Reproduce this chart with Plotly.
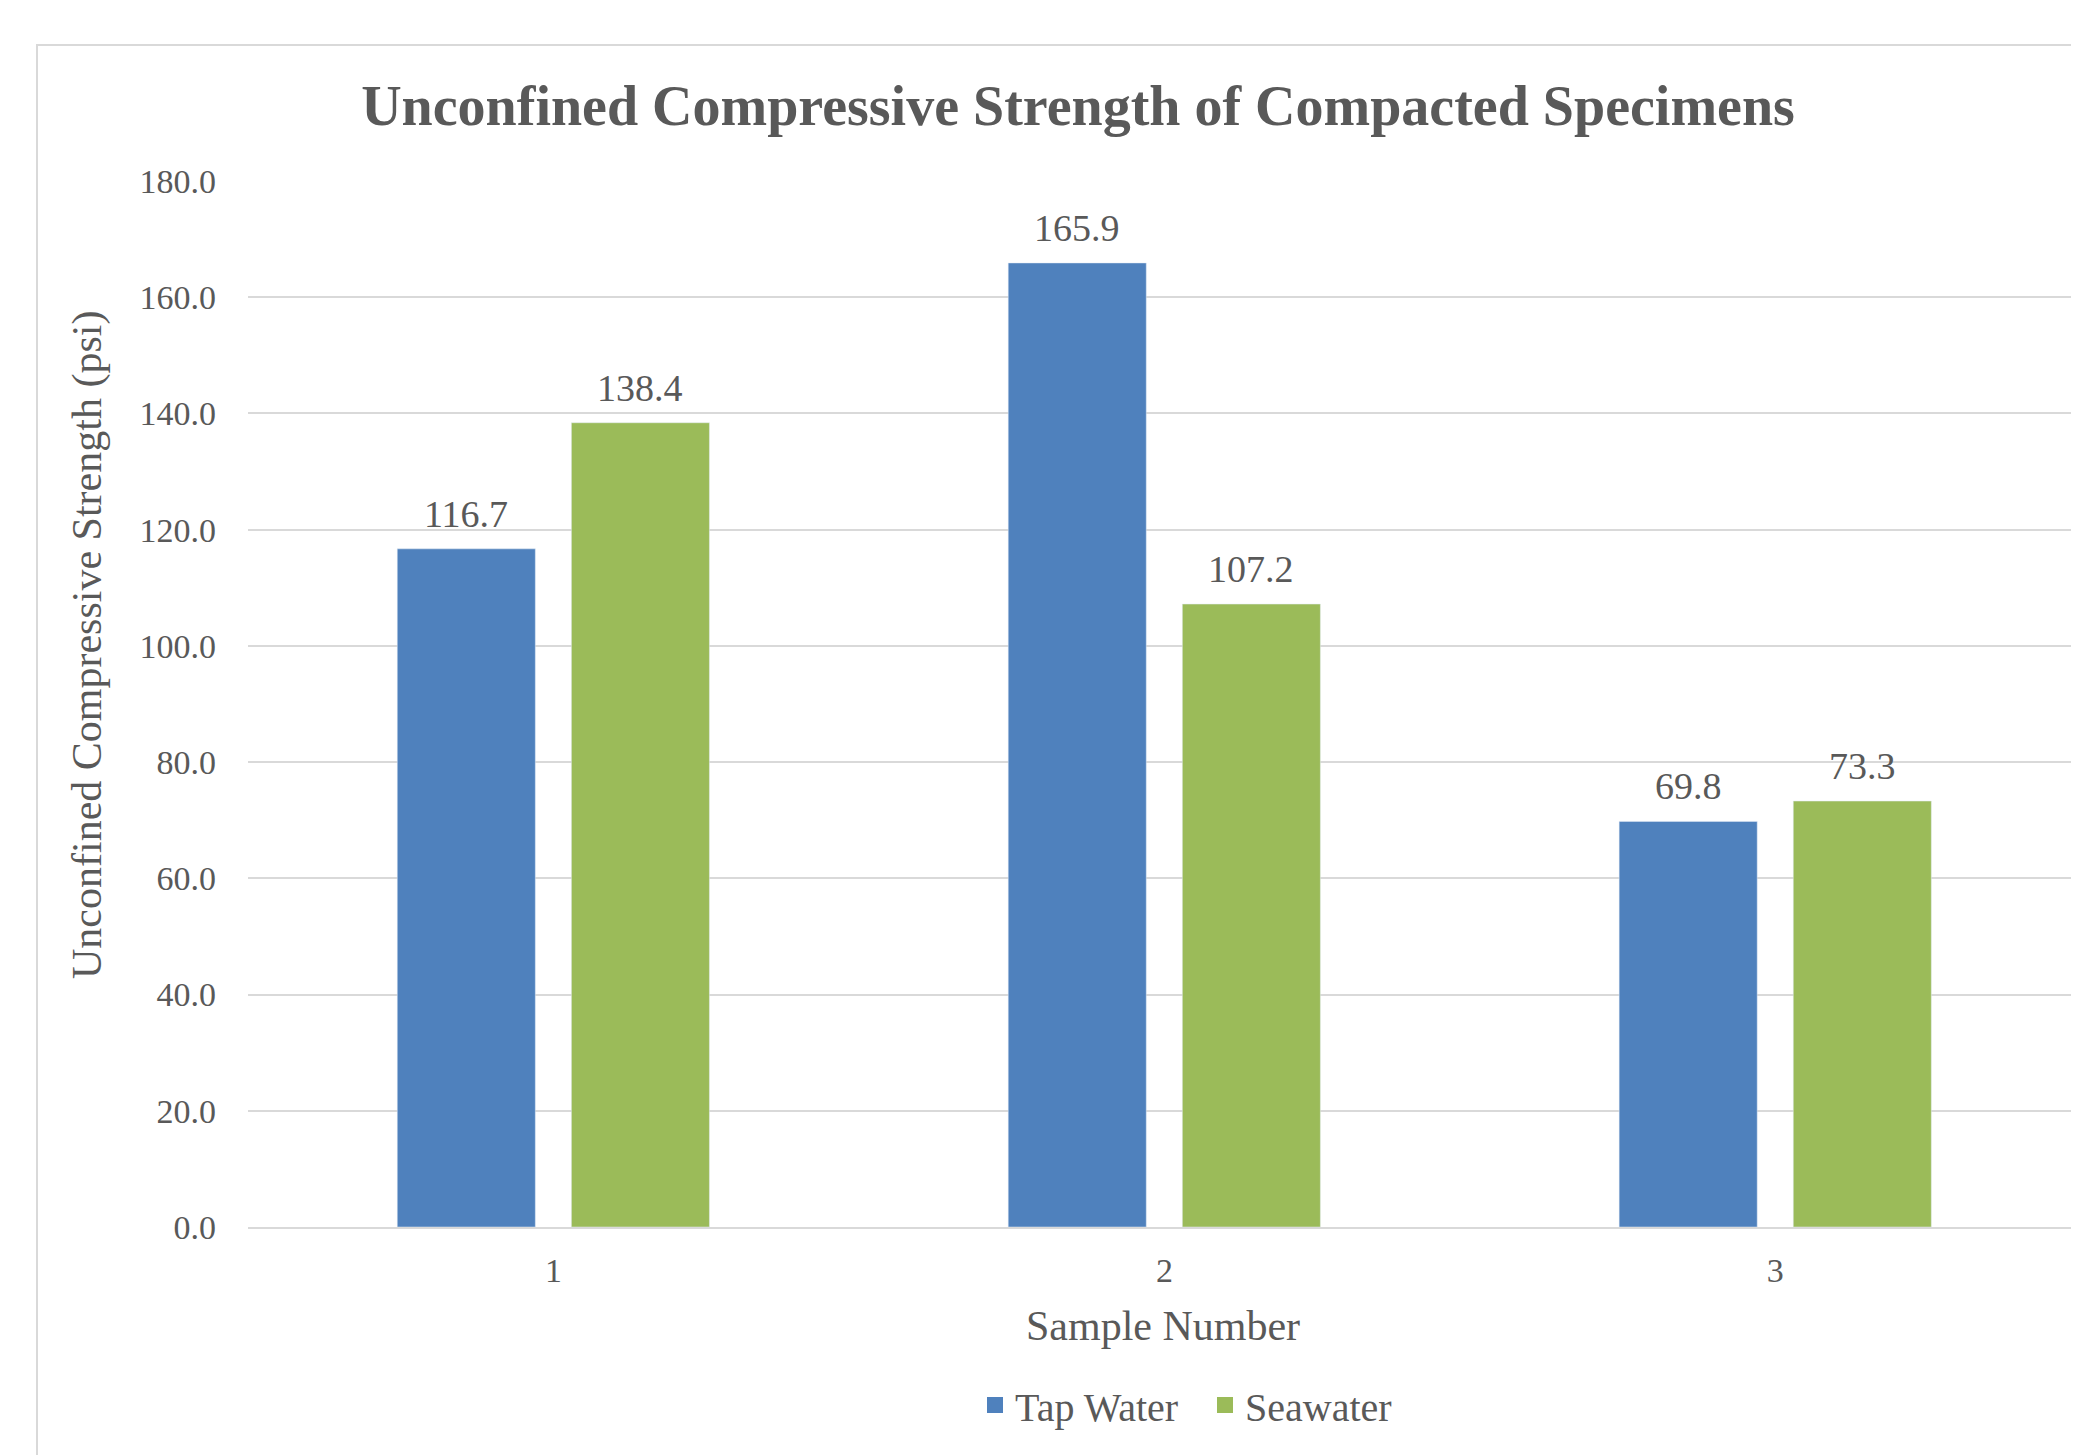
import plotly.graph_objects as go

categories = [1, 2, 3]
tick_labels = ["1", "2", "3"]
tap_water = [116.7, 165.9, 69.8]
seawater = [138.4, 107.2, 73.3]
y_ticks = [0, 20, 40, 60, 80, 100, 120, 140, 160, 180]
y_tick_labels = [f"{v:.1f}" for v in y_ticks]

BLUE = "#4F81BD"
GREEN = "#9BBB59"
TXT = "#595959"
GRID = "#D9D9D9"
FONT = "Liberation Serif, Times New Roman, serif"

# page has an 8px body margin; work in screen coordinates and convert
OFF = 8
W, H = 2079 - OFF, 1455 - OFF
L, R, T, B = 248 - OFF, 0, 181 - OFF, 228
PW = W - L - R
PH = H - T - B

BAR_W = 0.226
OFF_TAP = -0.2557
OFF_SEA = 0.0293

fig = go.Figure()
fig.add_trace(go.Bar(x=categories, y=tap_water, name="Tap Water", marker_color=BLUE,
                     width=BAR_W, offset=OFF_TAP, showlegend=False))
fig.add_trace(go.Bar(x=categories, y=seawater, name="Seawater", marker_color=GREEN,
                     width=BAR_W, offset=OFF_SEA, showlegend=False))
# legend entries
fig.add_trace(go.Scatter(x=[None], y=[None], mode="markers", name="Tap Water",
                         marker=dict(symbol="square", size=20, color=BLUE)))
fig.add_trace(go.Scatter(x=[None], y=[None], mode="markers", name="Seawater",
                         marker=dict(symbol="square", size=20, color=GREEN)))

annotations = []
for series, off in ((tap_water, OFF_TAP), (seawater, OFF_SEA)):
    for c, v in zip(categories, series):
        annotations.append(dict(x=c + off + BAR_W / 2, y=v, xref="x", yref="y",
                                text=f"{v:.1f}", showarrow=False, yanchor="bottom",
                                yshift=12, font=dict(family=FONT, size=38, color=TXT)))

def px2x(px):
    return (px - OFF - L) / PW

def py2y(py):
    return (H - B - (py - OFF)) / PH

annotations.append(dict(x=px2x(87), y=py2y(645), xref="paper", yref="paper",
                        text="Unconfined Compressive Strength (psi)", textangle=-90,
                        showarrow=False, xanchor="center", yanchor="middle",
                        font=dict(family=FONT, size=42, color=TXT)))
annotations.append(dict(x=px2x(1163), y=py2y(1326), xref="paper", yref="paper",
                        text="Sample Number", showarrow=False, xanchor="center", yanchor="middle",
                        font=dict(family=FONT, size=42, color=TXT)))

shapes = [dict(type="rect", xref="paper", yref="paper",
               x0=px2x(37), x1=px2x(2079 + 50), y0=py2y(1455 + 50), y1=py2y(45),
               line=dict(color=GRID, width=2), fillcolor="rgba(0,0,0,0)", layer="below")]

fig.update_layout(
    width=W, height=H,
    margin=dict(l=L, r=R, t=T, b=B, pad=0),
    paper_bgcolor="white", plot_bgcolor="white",
    barmode="overlay",
    title=dict(text="<b>Unconfined Compressive Strength of Compacted Specimens</b>",
               x=(1078 - OFF) / W, xref="container", xanchor="center",
               y=1 - (105 - OFF) / H, yref="container", yanchor="middle",
               font=dict(family=FONT, size=56, color=TXT)),
    font=dict(family=FONT, color=TXT),
    legend=dict(orientation="h", x=px2x(975), y=py2y(1405), xanchor="left", yanchor="middle",
                xref="paper", yref="paper", entrywidth=185, entrywidthmode="pixels",
                font=dict(family=FONT, size=40, color=TXT), bgcolor="rgba(0,0,0,0)"),
    annotations=annotations,
    shapes=shapes,
)
fig.update_xaxes(range=[0.5, 0.5 + 2.997], tickvals=categories, ticktext=tick_labels,
                 showgrid=False, zeroline=False, showline=True, linecolor=GRID, linewidth=2,
                 ticks="", ticklabelstandoff=12,
                 tickfont=dict(family=FONT, size=34, color=TXT))
fig.update_yaxes(range=[0, 180], tickvals=y_ticks, ticktext=y_tick_labels,
                 showgrid=True, gridcolor=GRID, gridwidth=2, zeroline=False, showline=False,
                 ticks="", ticklabelstandoff=31,
                 tickfont=dict(family=FONT, size=34, color=TXT))

fig.write_html("out.html")
